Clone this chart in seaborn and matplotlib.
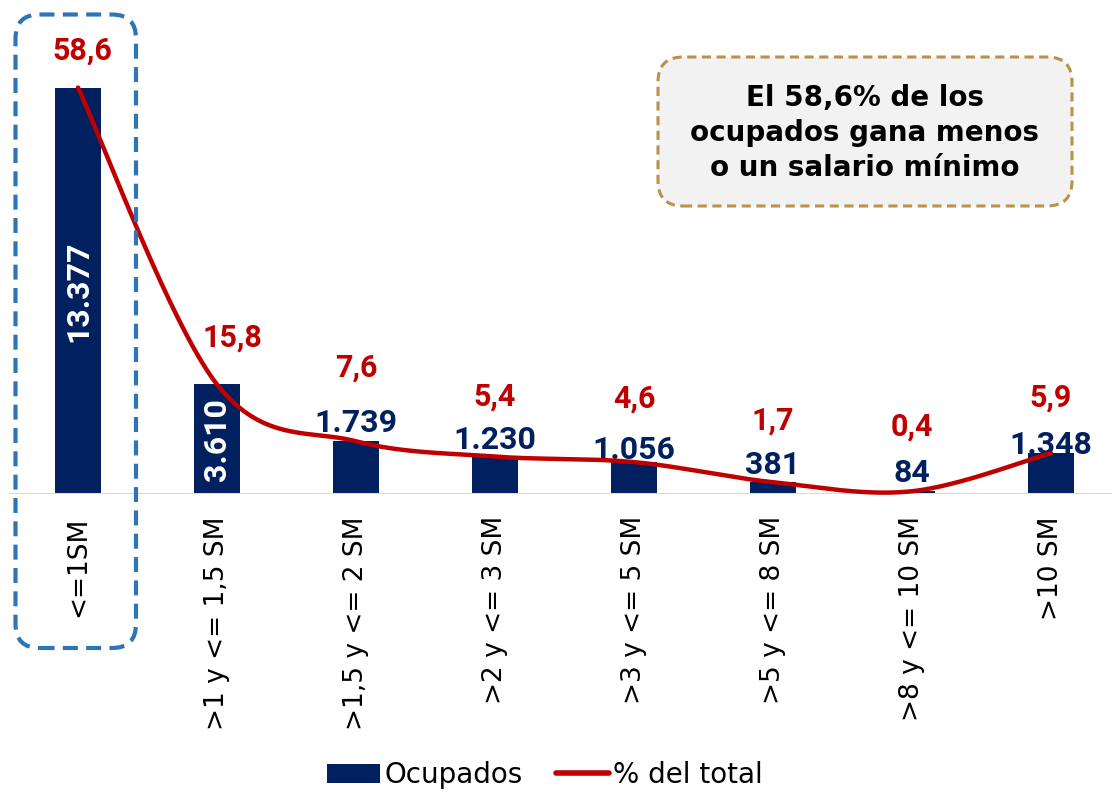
import numpy as np
import matplotlib
matplotlib.use('Agg')
import matplotlib.pyplot as plt
import seaborn as sns
from matplotlib.patches import FancyBboxPatch, Patch
from matplotlib.lines import Line2D

# data
categorias = ['<=1SM', '>1 y <= 1,5 SM', '>1,5 y <= 2 SM', '>2 y <= 3 SM',
              '>3 y <= 5 SM', '>5 y <= 8 SM', '>8 y <= 10 SM', '>10 SM']
ocupados = [13377, 3610, 1739, 1230, 1056, 381, 84, 1348]
pct_total = [58.6, 15.8, 7.6, 5.4, 4.6, 1.7, 0.4, 5.9]
nota = 'El 58,6% de los\nocupados gana menos\no un salario mínimo'

# label placement (pixels)
pct_dy = [37, 47, 74, 60, 64, 62, 65, 56]
pct_dx = [4, 15, 0, 0, 0, 0, 0, 0]
bar_dy = [0, 0, 18, 17, 12, 17, 18, 8]

navy = '#002060'
red = '#C00000'

sns.set_style('white')
plt.rcParams['font.family'] = ['DejaVu Sans']
plt.rcParams['text.color'] = 'black'
plt.rcParams['xtick.color'] = 'black'

fig = plt.figure(figsize=(11.12, 7.92), dpi=100)
ax = fig.add_axes([8.5 / 1112, 298 / 792, 1.0, 474 / 792])

sns.barplot(x=categorias, y=ocupados, color=navy, width=0.33, linewidth=0,
            saturation=1, ax=ax)
ymax = 15600
ax.set_xlim(-0.5, 7.5)
ax.set_ylim(0, ymax)
ax.axhline(0, color='#D9D9D9', lw=1.5, zorder=1)
for s in ax.spines.values():
    s.set_visible(False)
ax.set_yticks([])
ax.set_ylabel('')
ax.tick_params(axis='x', length=0, pad=16, colors='black')
ax.set_xticks(range(len(categorias)))
ax.set_xticklabels(categorias, rotation=90, va='top', ha='center', fontsize=19,
                   color='black')

# secondary axis for % line, scaled so the line meets the bar tops
ax2 = ax.twinx()
ax2.set_ylim(0, ymax * pct_total[0] / ocupados[0])
ax2.axis('off')


def smooth_curve(xv, yv, n=40):
    # bezier smoothing like the spreadsheet "smoothed line" option
    pts = np.column_stack([xv, yv]).astype(float)
    P = np.vstack([pts[0], pts, pts[-1]])
    t = np.linspace(0, 1, n)[:, None]
    segs = []
    for i in range(1, len(P) - 2):
        p0, p1, p2, p3 = P[i - 1], P[i], P[i + 1], P[i + 2]
        c1 = p1 + (p2 - p0) / 6
        c2 = p2 - (p3 - p1) / 6
        segs.append((1 - t) ** 3 * p1 + 3 * (1 - t) ** 2 * t * c1
                    + 3 * (1 - t) * t ** 2 * c2 + t ** 3 * p2)
    return np.vstack(segs)


curve = smooth_curve(np.arange(len(pct_total)), pct_total)
ax2.plot(curve[:, 0], curve[:, 1], color=red, lw=3.2, clip_on=False,
         solid_capstyle='round', zorder=5)

# value labels
for i, v in enumerate(ocupados):
    txt = f'{v:,}'.replace(',', '.')
    if i < 2:
        ax.text(i, v / 2, txt, rotation=90, ha='center', va='center',
                color='white', fontsize=23, fontweight='bold', family='Roboto',
                zorder=6)
    else:
        ax.annotate(txt, (i, v), xytext=(0, bar_dy[i]), textcoords='offset pixels',
                    ha='center', va='center', color=navy, fontsize=23,
                    fontweight='bold', family='Roboto', zorder=6)

for i, p in enumerate(pct_total):
    ax2.annotate(f'{p:.1f}'.replace('.', ','), (i, p), xytext=(pct_dx[i], pct_dy[i]),
                 textcoords='offset pixels', ha='center', va='center', color=red,
                 fontsize=22, fontweight='bold', family='Roboto', zorder=6)

# dashed highlight around first category
tr = fig.dpi_scale_trans
hl = FancyBboxPatch((15.5 / 100, (792 - 648) / 100), 120.5 / 100, 633.5 / 100,
                    boxstyle='round,pad=0,rounding_size=0.24', transform=tr,
                    fill=False, edgecolor='#2E75B6', lw=3, linestyle=(0, (3.6, 2)),
                    zorder=10)
fig.patches.append(hl)

# note box
nb = FancyBboxPatch((658 / 100, (792 - 206) / 100), 414 / 100, 149 / 100,
                    boxstyle='round,pad=0,rounding_size=0.25', transform=tr,
                    facecolor='#F2F2F2', edgecolor='#B8934A', lw=2.2,
                    linestyle=(0, (3, 1.8)), zorder=10)
fig.patches.append(nb)
fig.text(865 / 100, (792 - 133) / 100, nota, transform=tr, ha='center', va='center',
         fontsize=20, fontweight='bold', color='black', linespacing=1.3, zorder=11)

# legend
handles = [Patch(facecolor=navy, edgecolor='none'),
           Line2D([0], [0], color=red, lw=4)]
leg = fig.legend(handles, ['Ocupados', '% del total'], loc='center',
                 bbox_to_anchor=(545 / 1112, 17 / 792), ncol=2, frameon=False,
                 fontsize=20, handlelength=1.9, handletextpad=0.15,
                 columnspacing=1.2, labelcolor='black')

fig.savefig('out.png', dpi=100)
